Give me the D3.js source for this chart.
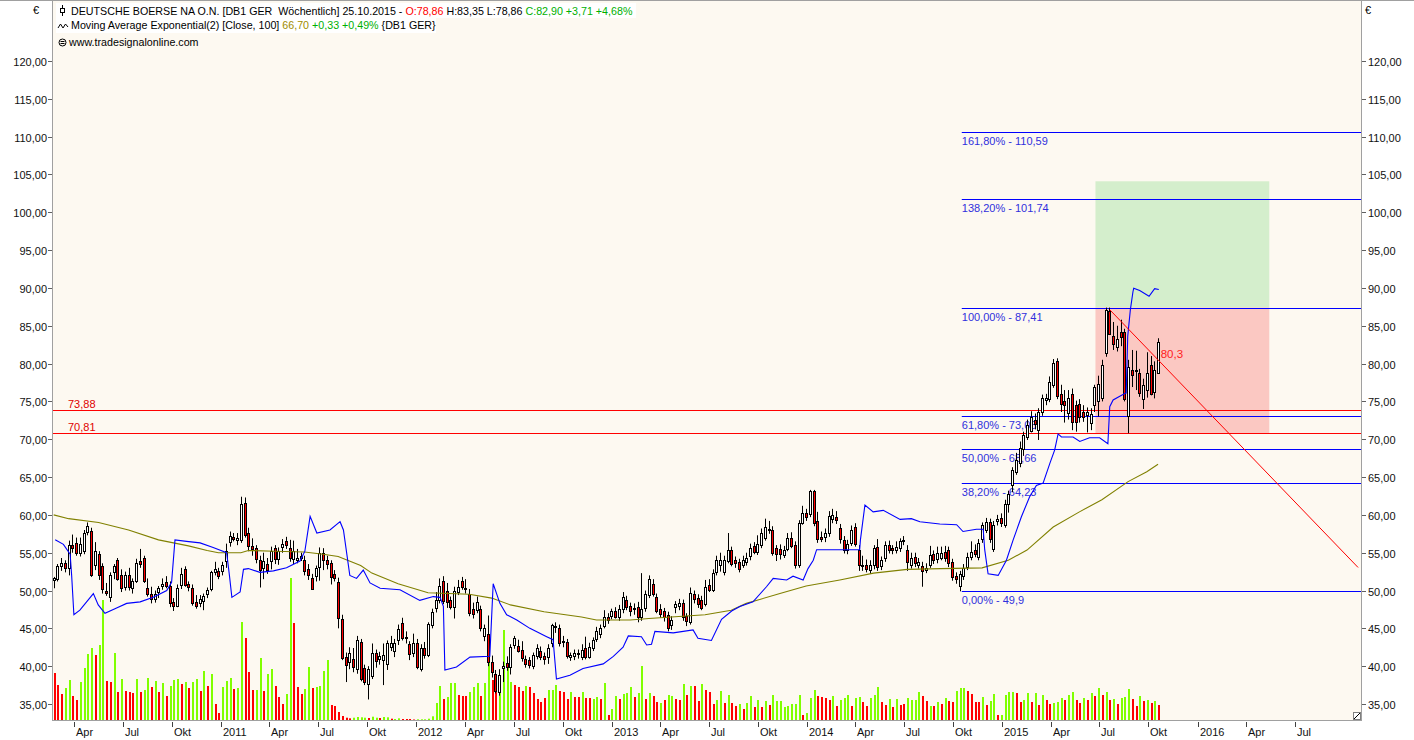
<!DOCTYPE html>
<html><head><meta charset="utf-8">
<script src="https://cdn.jsdelivr.net/npm/d3@7"></script>
<style>
body{margin:0;background:#fff;}
svg{display:block;font-family:"Liberation Sans",Arial,sans-serif;}
text{white-space:pre;}
</style>
</head><body>
<svg id="chart" width="1414" height="740"></svg>
<script>
// ---------------- DATA ----------------
const startWeek = "2010-02-22"; // first weekly bar
const opens = [51.3,51.5,53.2,53.6,52.9,56.0,56.3,55.0,55.2,57.7,
57.9,53.4,54.8,53.2,50.0,49.1,52.4,54.1,52.0,50.4,
52.0,50.4,51.3,53.9,54.3,50.4,49.6,49.0,49.9,50.6,
51.1,50.6,48.5,48.0,50.7,52.8,50.8,50.4,48.5,48.4,
48.6,49.6,50.2,52.4,52.6,52.6,53.9,56.4,57.1,56.8,
56.8,61.6,57.6,55.9,55.6,54.1,53.0,53.5,53.9,55.6,
54.1,55.7,56.6,55.6,54.1,54.1,54.3,54.1,52.8,51.7,
52.0,53.2,55.0,54.1,53.6,52.2,51.1,46.3,41.2,40.5,
40.9,39.7,43.2,39.7,37.6,38.8,41.8,41.0,40.8,40.2,
42.6,42.1,43.4,45.7,43.8,42.9,41.7,43.0,39.6,42.4,
41.5,45.4,47.6,48.7,51.2,50.0,48.7,47.9,49.9,51.3,
50.3,49.6,47.5,47.4,47.5,43.9,44.3,40.6,39.0,36.6,
39.7,40.4,40.0,42.8,42.7,42.1,40.9,40.8,40.0,41.3,
42.0,41.3,41.2,43.0,45.3,45.0,43.3,43.2,41.3,41.3,
41.6,41.2,42.4,41.3,42.4,43.5,44.3,45.3,46.5,46.6,
47.3,46.5,47.5,48.8,47.9,47.6,47.8,46.6,47.7,49.4,
50.9,49.2,47.5,47.3,46.8,45.5,47.8,47.9,48.4,46.6,
45.9,49.5,49.0,48.8,48.3,50.7,50.1,52.5,53.4,52.4,
54.0,55.4,54.0,53.8,53.4,53.8,54.5,55.9,55.1,56.0,
57.0,58.1,58.0,55.6,55.5,54.8,55.6,57.0,56.0,53.4,
59.0,60.2,60.2,63.1,59.2,57.1,57.1,57.6,59.5,59.7,
58.2,56.7,55.4,56.3,58.4,55.4,53.4,53.4,52.8,53.4,
55.8,53.2,54.3,56.0,55.6,55.4,55.6,56.6,55.4,53.4,
54.4,53.4,53.2,52.8,53.4,54.8,54.1,54.4,55.1,55.3,
53.8,51.9,50.6,51.9,53.1,54.5,55.3,54.5,56.8,58.1,
59.0,55.4,59.3,59.6,58.7,61.5,63.9,65.7,66.9,68.6,
70.3,71.2,72.6,71.2,73.5,75.2,75.3,77.2,80.4,76.0,
75.0,73.4,76.0,74.5,74.7,73.6,73.2,72.1,74.5,75.0,
75.4,81.4,87.0,83.6,82.2,84.2,84.2,73.0,79.1,79.0,
78.8,75.4,76.5,79.8,76.3,78.86];
const highs = [51.8,53.5,54.3,54.0,56.6,57.4,57.0,57.0,58.0,59.0,
58.3,56.4,55.2,53.6,51.0,52.4,53.5,54.3,52.8,52.5,
53.0,51.6,54.2,55.5,54.6,51.6,50.5,50.0,50.6,51.6,
51.9,51.2,49.0,50.8,53.0,53.2,51.2,50.8,49.4,49.4,
49.6,50.4,52.6,53.8,53.0,53.8,56.2,57.8,57.6,57.6,
62.4,62.3,58.3,56.9,56.0,54.6,55.0,54.3,55.8,56.0,
55.7,56.8,57.1,56.7,56.6,55.5,55.0,54.6,53.5,52.2,
53.3,55.7,55.6,54.6,54.0,52.7,51.7,46.8,41.8,42.5,
42.4,44.0,43.6,40.2,40.0,43.0,42.2,41.9,43.0,43.4,
44.0,43.6,45.5,46.4,44.6,43.3,44.3,43.6,42.9,43.2,
45.8,47.6,49.8,51.6,51.9,51.0,49.2,50.5,51.4,51.8,
51.5,50.2,48.4,49.2,48.0,45.5,46.7,41.4,39.5,39.6,
40.6,41.3,42.9,44.0,43.5,43.3,41.4,41.2,41.8,42.9,
42.6,41.8,42.9,45.6,45.8,45.5,44.0,43.6,41.8,42.2,
42.2,42.9,43.9,43.1,43.8,45.2,45.5,47.4,47.0,47.6,
47.8,48.1,49.8,49.3,48.4,48.3,48.5,52.3,50.0,52.0,
51.5,49.6,48.2,47.7,47.2,46.6,48.6,48.9,48.8,47.0,
50.4,50.0,49.5,49.3,51.4,51.5,52.8,54.6,55.0,54.6,
57.6,55.8,54.5,54.2,54.6,55.0,56.2,56.4,57.3,58.2,
59.5,59.2,58.5,56.0,56.1,55.9,57.6,57.7,56.5,59.3,
61.2,60.8,63.3,63.3,60.4,57.8,58.2,60.5,60.8,60.5,
58.8,57.2,56.7,58.6,58.9,56.0,54.6,54.1,54.0,56.0,
56.8,54.5,56.5,56.6,56.0,56.5,56.9,57.2,56.0,55.0,
55.0,54.3,53.8,53.6,55.9,55.3,55.8,55.8,55.9,55.8,
54.2,52.4,52.6,53.5,55.0,56.5,56.1,56.8,59.0,59.6,
59.5,59.2,60.0,60.2,62.0,63.2,66.3,68.2,69.7,71.0,
72.6,73.7,73.4,74.1,75.9,76.0,78.3,80.6,80.7,77.2,
76.5,76.5,76.7,75.1,75.3,74.5,74.2,74.1,77.2,78.4,
80.5,87.4,87.4,85.5,85.0,85.8,84.6,80.5,81.8,81.7,
79.3,78.0,81.5,81.0,80.3,83.35];
const lows = [50.3,51.2,52.6,52.4,52.0,55.0,54.6,54.5,54.8,57.3,
51.8,52.7,51.4,49.6,49.3,48.5,51.5,51.3,49.8,50.0,
50.0,49.6,51.0,53.0,51.0,49.2,48.3,48.4,49.0,50.1,
50.3,47.8,47.3,47.8,50.2,50.5,49.9,48.0,47.6,47.8,
47.4,49.0,49.9,52.0,51.5,52.0,53.0,55.8,56.5,56.0,
56.3,57.0,55.2,54.6,53.6,50.4,51.5,52.2,52.8,53.5,
53.4,55.0,55.5,53.8,53.5,53.6,53.9,52.0,51.4,50.1,
51.2,51.3,52.7,52.8,50.8,51.2,45.0,40.8,37.9,39.6,
39.2,39.0,38.0,37.5,35.6,38.3,39.8,40.2,37.5,39.5,
42.0,41.2,42.8,43.4,43.0,40.8,41.2,39.6,39.3,41.0,
41.2,45.0,47.1,48.3,48.2,47.7,47.5,46.3,49.4,50.1,
49.6,46.6,46.3,47.0,44.6,43.3,40.0,38.5,36.4,36.1,
37.9,39.4,38.9,42.3,41.8,40.6,39.8,39.7,39.6,40.9,
40.8,40.2,40.3,42.5,44.4,42.6,42.5,41.0,40.7,40.8,
41.0,40.8,40.9,41.0,42.0,43.2,43.7,45.0,45.6,46.2,
46.3,46.0,47.0,47.4,46.6,46.8,45.8,46.0,47.2,49.0,
49.2,47.0,46.4,45.9,44.6,44.8,47.0,47.4,46.0,45.3,
45.5,48.3,47.7,47.4,47.9,49.8,49.8,52.0,52.5,52.0,
53.6,53.2,53.0,52.4,53.0,53.3,54.0,54.8,54.7,55.6,
56.6,57.5,54.6,53.9,54.1,54.3,55.2,55.6,52.9,53.0,
58.7,59.2,59.7,58.5,56.3,56.4,56.4,57.1,58.9,58.8,
56.2,54.9,54.8,55.9,55.8,52.6,52.6,52.4,52.2,52.8,
52.6,52.7,53.8,54.9,54.8,54.9,55.1,56.0,52.6,52.9,
53.1,52.9,50.5,52.3,53.0,53.5,53.6,54.0,53.8,53.1,
51.3,50.9,49.9,51.4,52.7,54.0,54.4,54.0,56.3,57.6,
56.3,55.1,58.6,58.4,58.3,60.3,63.0,65.3,66.3,67.8,
69.9,70.9,71.3,69.9,73.1,74.5,74.9,76.8,75.3,73.6,
72.2,72.6,71.2,71.0,72.2,72.3,70.9,71.2,73.6,73.0,
75.0,80.9,83.8,81.8,81.6,82.3,75.0,70.8,76.9,76.5,
75.6,74.0,75.5,75.8,75.4,78.86];
const closes = [51.6,53.2,53.6,52.9,56.0,55.6,55.0,56.2,57.6,58.5,
52.1,55.2,52.0,50.2,49.8,52.0,53.2,51.6,50.3,52.0,
50.4,51.3,53.7,53.5,51.3,49.6,49.0,49.6,50.4,50.9,
50.6,48.3,48.0,50.4,52.2,50.7,50.4,48.4,48.0,48.9,
49.3,50.1,52.4,52.8,51.9,53.4,55.2,57.2,56.9,57.0,
61.5,57.4,55.9,55.5,54.1,52.8,53.9,52.7,55.2,54.1,
55.2,56.1,56.1,54.3,55.2,54.3,54.5,52.6,52.0,50.3,
53.0,55.0,54.1,53.6,51.7,51.7,46.3,41.2,40.1,41.7,
39.9,43.5,38.3,37.8,39.6,41.8,40.8,41.4,41.5,43.0,
43.1,43.1,44.9,43.7,43.9,41.6,43.0,39.8,42.4,41.5,
45.6,47.1,48.7,50.6,48.5,48.5,47.8,50.0,50.5,50.5,
50.4,47.1,46.8,48.5,45.0,45.0,40.6,39.3,36.8,38.8,
40.0,39.9,42.6,43.7,42.1,41.0,40.2,40.2,41.5,42.4,
41.2,40.9,42.4,45.4,45.2,43.0,43.2,41.3,41.5,41.7,
41.7,42.1,41.2,42.6,43.4,44.6,45.1,46.5,46.1,47.3,
46.5,47.5,49.1,47.9,47.3,47.7,46.5,47.6,49.6,51.5,
49.6,47.4,46.8,46.5,45.1,46.1,48.2,48.3,46.5,45.9,
49.7,48.8,48.2,47.8,50.5,50.1,52.3,54.1,54.1,54.0,
55.4,53.6,53.6,52.9,54.1,54.3,55.6,55.1,56.2,57.6,
58.4,58.0,55.0,54.8,54.8,55.4,57.0,56.0,53.4,58.9,
60.3,59.7,63.2,58.9,56.8,56.9,57.6,59.8,60.0,59.3,
56.8,55.4,56.2,58.0,56.2,53.4,53.3,52.9,53.4,55.6,
53.1,54.0,56.0,55.4,55.3,55.8,56.5,56.7,53.8,54.3,
53.6,53.8,52.5,53.0,54.7,54.0,54.9,55.0,54.3,53.6,
51.8,51.5,52.2,53.0,54.4,55.1,54.8,56.3,58.6,59.1,
56.8,58.6,59.5,59.0,61.5,62.8,65.9,67.3,68.9,70.5,
71.9,73.0,72.1,73.6,75.4,75.4,77.6,80.1,75.8,74.7,
74.5,75.4,72.3,72.3,73.0,73.0,73.6,73.3,76.9,77.3,
79.8,87.1,84.0,82.5,83.3,83.6,75.4,79.5,78.5,79.1,
76.1,77.2,78.7,76.0,79.2,82.9];
const volumes = [47,35,26,32,40,24,20,38,52,66,
72,65,75,120,39,38,67,28,41,29,
28,27,41,28,30,42,33,39,28,37,
24,34,40,41,36,38,32,38,41,29,
49,34,46,16,7,33,39,42,31,32,
98,82,48,30,30,62,29,46,51,34,
23,16,26,142,97,33,26,31,53,32,
33,34,49,60,15,14,8,4,2.3,1.7,
2.3,3,2.7,2.3,2,3.3,2.3,2,3,2.7,
1.3,1,1.7,1,1,1,0.5,0.7,0.7,0.7,
1.3,3.7,17,34,21,23,37,37,25,24,
24,28,33,37,24,37,60,40,37,34,
90,53,38,35,33,29,34,33,27,21,
18,22,30,30,35,29,28,21,28,23,
23,28,22,22,21,23,21,37,5,11,
24,21,26,27,33,23,27,54,21,27,
24,18,17,20,25,24,21,20,36,25,
34,34,19,36,30,28,16,20,29,17,
25,17,14,16,11,17,24,13,20,13,
19,15,25,19,19,13,14,16,16,25,
5,7,22,30,24,23,22,20,24,14,
20,22,25,14,22,23,18,14,22,25,
33,18,15,21,13,21,15,16,22,20,
20,28,24,19,14,14,18,16,22,19,
18,29,32,32,29,26,18,18,23,15,
19,26,5,5,25,28,28,27,18,20,
27,18,27,15,25,20,16,17,18,22,
20,25,28,20,17,22,20,27,24,32,
25,28,20,21,16,22,23,31,21,14,
24,19,20,17,19,15];
// g = rising volume bar, r = falling
const volumeColors = ("rrrggrrggg"+"grggrrgrgr"+"rrgrggrgrg"+"rgggrgrggr"+"grgrrgggrg"+
 "grrrggrggr"+"rrggrrrggr"+"ggggrrrrrr"+"ggggrggrgg"+"rggrrrrggg"+
 "ggggrgggrr"+"rgggrggrrg"+"gggrrrgrrr"+"rrgggrrrgr"+"rgrrggrgrg"+
 "grgggrggrg"+"rrgrggrrgr"+"grrgrrrggr"+"grrgrggrgr"+"grgggggggg"+
 "rgggrrrrgr"+"gggrggrrgg"+"grrgrgrrgg"+"ggrrgrgrgr"+"rgggrrrrgr"+
 "ggrggggrrg"+"grgrgrrggg"+"rggrrgrgrg"+"rgrgrgggrr"+"grgrgr").split("");
// Moving Average Exponential (Close, 100): [week index, value]
const emaPoints = [[0,60.0],[4,59.5],[12,59.0],[20,58.0],[28,56.7],[36,55.9],[41,55.3],[44,55.0],
 [50,55.0],[52,55.3],[59,55.2],[67,55.1],[72,54.8],[76,54.5],[79,53.9],[82,53.3],[85,52.3],
 [92,50.9],[100,49.7],[111,49.5],[117,49.0],[122,48.1],[131,47.2],[141,46.5],[145,46.1],
 [154,46.1],[159,46.3],[174,46.8],[181,47.4],[185,48.3],[194,49.6],[201,50.6],[210,51.4],
 [219,52.3],[228,52.8],[237,52.9],[248,53.0],[255,54.0],[260,55.35],[267,58.4],[274,60.4],
 [280,62.0],[287,64.4],[292,65.7],[295,66.7]];
// blue indicator line: [week index, value]
const bluePoints = [[0.4,56.7],[2.6,56.1],[4.4,54.8],[4.8,52.0],[5.4,46.8],[7.0,47.4],[10.6,49.6],
 [11.9,48.1],[13.7,47.0],[16.8,47.7],[19.5,48.3],[23.1,48.5],[26.6,49.1],[30.2,50.0],[31.5,51.1],
 [32.4,56.7],[35.5,56.5],[39.1,56.3],[42.6,55.7],[46.2,55.0],[46.9,52.2],[47.6,49.1],[49.8,49.8],
 [50.7,52.8],[52.0,52.9],[55.1,52.4],[58.7,52.6],[62.2,53.0],[65.8,53.9],[67.1,55.2],[68.5,59.8],
 [70.3,57.6],[73.8,58.0],[76.5,59.1],[77.4,58.0],[79.1,52.0],[80.9,51.6],[82.7,52.7],[84.5,51.0],
 [87.2,50.3],[92.5,50.1],[97.8,48.7],[101.4,49.2],[103.2,49.1],[104.1,47.9],[104.5,39.5],
 [107.6,39.9],[111.2,41.2],[116.5,41.3],[117.4,50.9],[119.2,48.3],[121.0,46.8],[123.7,46.1],
 [127.2,45.0],[131.7,43.9],[133.4,43.5],[134.3,38.3],[137.9,38.8],[141.4,39.7],[146.8,40.3],
 [149.5,41.3],[152.1,42.5],[153.5,44.0],[157.0,43.9],[158.4,42.8],[159.7,42.9],[160.6,44.6],
 [165.5,44.4],[170.8,44.8],[172.1,43.7],[175.7,43.4],[178.4,46.2],[181.1,47.3],[183.3,47.9],
 [186.8,48.5],[190.4,50.5],[192.2,51.6],[195.8,51.4],[197.5,51.9],[200.2,51.4],[201.5,52.9],
 [202.9,54.0],[203.8,55.4],[206.4,55.4],[210.9,55.4],[215.3,55.4],[215.5,56.7],[216.7,61.3],
 [218.9,60.4],[221.6,60.6],[226.1,59.4],[229.1,59.5],[231.4,59.1],[236.7,58.8],[241.2,58.7],
 [242.9,57.8],[246.5,58.1],[248.3,58.1],[248.7,55.4],[249.6,52.2],[252.3,52.0],[254.5,54.0],
 [256.3,56.7],[258.5,59.75],[260.7,62.4],[262.5,63.9],[264.3,64.2],[266.1,66.8],[267.4,68.6],
 [268.3,70.7],[269.2,70.3],[272.3,70.3],[274.1,69.7],[276.7,70.2],[279.4,70.2],[281.6,69.4],
 [282.1,74.3],[283.0,75.2],[286.1,76.05],[286.5,76.1],[286.9,83.6],[287.6,87.1],[288.3,89.5],
 [288.5,89.95],[290.1,89.65],[292.6,88.9],[294.1,89.9],[295.2,89.8]];
const redLevels = [{label:"73,88", value:73.88},{label:"70,81", value:70.81}];
const fibLevels = [
 {label:"161,80% - 110,59", value:110.59},
 {label:"138,20% - 101,74", value:101.74},
 {label:"100,00% - 87,41", value:87.41},
 {label:"61,80% - 73,08", value:73.08},
 {label:"50,00% - 68,66", value:68.66},
 {label:"38,20% - 64,23", value:64.23},
 {label:"0,00% - 49,9", value:49.9}];
const fibStart = "2014-10-17";
const targetBox = {start:"2015-06-24", end:"2016-05-14", top:104.1, entry:87.41, stop:70.81};
const trendLine = [["2015-07-21",87.1],["2016-10-27",53.05]];
const trendLabel = {text:"80,3", date:"2015-10-24", value:80.7};
const yTicks = [35,40,45,50,55,60,65,70,75,80,85,90,95,100,105,110,115,120];
const quarterNames = {3:"Apr",6:"Jul",9:"Okt"};
const xTickRange = ["2010-04-01","2016-07-01"];
const header1 = [["DEUTSCHE BOERSE NA O.N. [DB1 GER  Wöchentlich] 25.10.2015 - ","#000"],["O:78,86","#ff0000"],[" H:83,35 L:78,86 ","#000"],["C:82,90 +3,71 +4,68%","#00b000"]];
const header2 = [["Moving Average Exponential(2) [Close, 100] ","#000"],["66,70","#a08c00"],[" +0,33 +0,49%","#00b000"],[" {DB1 GER}","#000"]];
const header3 = "www.tradesignalonline.com";

// ---------------- CHART ----------------
const parse = d3.timeParse("%Y-%m-%d");
const svg = d3.select("#chart");
const PL = 53, PR = 1361, PT = 1, PB = 720;
const x = d3.scaleTime().domain([new Date(2011,0,1), new Date(2016,0,1)]).range([221.07, 221.07 + 1826*0.5348]);
const y = d3.scaleLinear().domain([35,120]).range([704,61]);
const yVol = d3.scaleLinear().domain([0,150]).range([720,570]);
const t0 = parse(startWeek);
const weekDate = i => new Date(t0.getTime() + i*7*864e5);
const cx = i => Math.round(x(weekDate(i))) + 0.5;

svg.append("rect").attr("width",1414).attr("height",740).attr("fill","#fff");
svg.append("rect").attr("x",PL).attr("y",PT).attr("width",PR-PL).attr("height",PB-PT).attr("fill","#fdf9f1");

svg.append("clipPath").attr("id","clip").append("rect").attr("x",PL).attr("y",PT).attr("width",PR-PL).attr("height",PB-PT);
const g = svg.append("g").attr("clip-path","url(#clip)");

// header backgrounds
g.append("rect").attr("x",56).attr("y",3).attr("width",580).attr("height",15).attr("fill","#fff");
g.append("rect").attr("x",56).attr("y",18).attr("width",380).attr("height",15).attr("fill","#fff");

// target / stop boxes
const bx0 = x(parse(targetBox.start)), bx1 = x(parse(targetBox.end));
g.append("rect").attr("x",bx0).attr("width",bx1-bx0).attr("y",y(targetBox.top)).attr("height",y(targetBox.entry)-y(targetBox.top)).attr("fill","#d4eecc");
g.append("rect").attr("x",bx0).attr("width",bx1-bx0).attr("y",y(targetBox.entry)).attr("height",y(targetBox.stop)-y(targetBox.entry)).attr("fill","#fbc8c2");

// volume bars
const n = opens.length;
const idx = d3.range(n);
g.append("g").selectAll("rect").data(idx).join("rect")
  .attr("x", i => Math.floor(cx(i)))
  .attr("width", 2)
  .attr("y", i => yVol(volumes[i]))
  .attr("height", i => Math.max(0.6, yVol(0) - yVol(volumes[i])))
  .attr("fill", i => volumeColors[i] === "g" ? "#80ff00" : "#ff0000");

// fib levels
const fx = x(parse(fibStart));
const fg = g.append("g");
fibLevels.forEach(f => {
  const yy = Math.round(y(f.value)) + 0.5;
  fg.append("line").attr("x1",fx).attr("x2",PR).attr("y1",yy).attr("y2",yy).attr("stroke","#0000ff").attr("stroke-width",1);
  fg.append("text").attr("x",fx).attr("y",yy+12).attr("font-size",11).attr("fill","#3030dd").text(f.label);
});
// red horizontal levels
redLevels.forEach(r => {
  const yy = Math.round(y(r.value)) + 0.5;
  g.append("line").attr("x1",PL).attr("x2",PR).attr("y1",yy).attr("y2",yy).attr("stroke","#ff0000").attr("stroke-width",1);
  g.append("text").attr("x",68).attr("y",yy-3).attr("font-size",11).attr("fill","#e00000").text(r.label);
});

// candles
const cg = g.append("g");
idx.forEach(i => {
  const xc = cx(i);
  cg.append("line").attr("x1",xc).attr("x2",xc).attr("y1",y(highs[i])).attr("y2",y(lows[i])).attr("stroke","#000").attr("stroke-width",1);
  const top = y(Math.max(opens[i],closes[i])), bot = y(Math.min(opens[i],closes[i]));
  cg.append("rect").attr("x",xc-1).attr("width",2)
    .attr("y",Math.round(top)+0.5).attr("height",Math.max(1,Math.round(bot-top)))
    .attr("fill", closes[i] >= opens[i] ? "#ffffff" : "#ff0000")
    .attr("stroke","#000").attr("stroke-width",1);
});

// EMA line
g.append("path").datum(emaPoints)
  .attr("d", d3.line().x(d => x(weekDate(d[0]))).y(d => y(d[1])))
  .attr("fill","none").attr("stroke","#808000").attr("stroke-width",1.1);
// blue line
g.append("path").datum(bluePoints)
  .attr("d", d3.line().x(d => x(weekDate(d[0]))).y(d => y(d[1])))
  .attr("fill","none").attr("stroke","#0000ff").attr("stroke-width",1.1);

// trend line
g.append("line")
  .attr("x1",x(parse(trendLine[0][0]))).attr("y1",y(trendLine[0][1]))
  .attr("x2",x(parse(trendLine[1][0]))).attr("y2",y(trendLine[1][1]))
  .attr("stroke","#ff0000").attr("stroke-width",1);
g.append("text").attr("x",x(parse(trendLabel.date))).attr("y",y(trendLabel.value)).attr("font-size",11.5).attr("fill","#ff2020").text(trendLabel.text);

// header
const h1 = g.append("text").attr("x",71).attr("y",15).attr("font-size",10.7);
header1.forEach(s => h1.append("tspan").attr("fill",s[1]).text(s[0]));
const h2 = g.append("text").attr("x",71).attr("y",29).attr("font-size",10.7);
header2.forEach(s => h2.append("tspan").attr("fill",s[1]).text(s[0]));
g.append("text").attr("x",69).attr("y",46).attr("font-size",10.7).attr("fill","#000").text(header3);
// header icons
g.append("line").attr("x1",62.5).attr("x2",62.5).attr("y1",5).attr("y2",16).attr("stroke","#000");
g.append("rect").attr("x",60.5).attr("y",8.5).attr("width",4).attr("height",4).attr("fill","#fff").attr("stroke","#000");
g.append("path").attr("d","M58,28 L60.5,24 L63,28 L65.5,24 L68,27").attr("fill","none").attr("stroke","#000");
g.append("circle").attr("cx",62.5).attr("cy",42.5).attr("r",3.5).attr("fill","none").attr("stroke","#000");
g.append("line").attr("x1",60.5).attr("x2",64.5).attr("y1",41.5).attr("y2",41.5).attr("stroke","#000");
g.append("line").attr("x1",60.5).attr("x2",64.5).attr("y1",43.5).attr("y2",43.5).attr("stroke","#000");

// frame
svg.append("line").attr("x1",0).attr("x2",1414).attr("y1",0.5).attr("y2",0.5).attr("stroke","#a0a0a0");
svg.append("line").attr("x1",PL-0.5).attr("x2",PL-0.5).attr("y1",0).attr("y2",PB+1).attr("stroke","#a0a0a0");
svg.append("line").attr("x1",PR+0.5).attr("x2",PR+0.5).attr("y1",0).attr("y2",PB+1).attr("stroke","#a0a0a0");
svg.append("line").attr("x1",PL-1).attr("x2",PR+1).attr("y1",PB+0.5).attr("y2",PB+0.5).attr("stroke","#a0a0a0");

// y axes
const fmt = v => v.toFixed(2).replace(".", ",");
yTicks.forEach(v => {
  const yy = Math.round(y(v)) + 0.5;
  svg.append("line").attr("x1",PL-5).attr("x2",PL-1).attr("y1",yy).attr("y2",yy).attr("stroke","#606060");
  svg.append("text").attr("x",PL-6).attr("y",yy+4).attr("text-anchor","end").attr("font-size",11).attr("fill","#111").text(fmt(v));
  svg.append("line").attr("x1",PR+1).attr("x2",PR+5).attr("y1",yy).attr("y2",yy).attr("stroke","#606060");
  svg.append("text").attr("x",PR+7).attr("y",yy+4).attr("font-size",11).attr("fill","#111").text(fmt(v));
});
svg.append("text").attr("x",33).attr("y",14).attr("font-size",11).attr("fill","#000").text("€");
svg.append("text").attr("x",1365).attr("y",14).attr("font-size",11).attr("fill","#000").text("€");

// x axis
const xt = d3.timeMonth.every(3).range(parse(xTickRange[0]), d3.timeDay.offset(parse(xTickRange[1]),1));
xt.forEach(d => {
  const xx = Math.round(x(d)) + 0.5;
  svg.append("line").attr("x1",xx).attr("x2",xx).attr("y1",PB+2).attr("y2",PB+7).attr("stroke","#404040");
  const m = d.getMonth();
  svg.append("text").attr("x",xx+1.5).attr("y",736).attr("font-size",11).attr("fill","#111")
    .text(m === 0 ? String(d.getFullYear()) : quarterNames[m]);
});

// corner icon
svg.append("rect").attr("x",1353.5).attr("y",712.5).attr("width",7).attr("height",7).attr("fill","#fff").attr("stroke","#808080");
svg.append("line").attr("x1",1354).attr("y1",719).attr("x2",1360).attr("y2",713).attr("stroke","#000");
</script>
</body></html>
